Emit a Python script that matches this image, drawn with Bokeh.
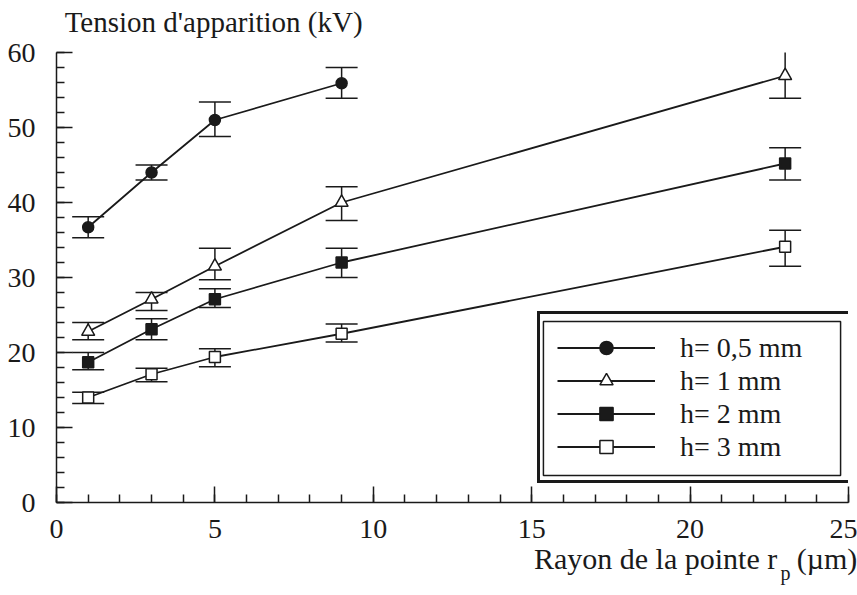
from bokeh.plotting import figure
from bokeh.models import (Range1d, SingleIntervalTicker, FixedTicker, LinearAxis,
                          Legend, LegendItem)
from bokeh.embed import file_html
from bokeh.resources import INLINE

# ---- data ----
x_05 = [1, 3, 5, 9]
y_05 = [36.7, 44.0, 51.0, 55.9]
lo_05 = [35.3, 43.0, 48.8, 53.9]
hi_05 = [38.1, 45.0, 53.4, 58.0]

x_all = [1, 3, 5, 9, 23]
y_1 = [22.8, 27.1, 31.5, 40.0, 56.9]
lo_1 = [21.7, 25.6, 29.7, 37.6, 53.9]
hi_1 = [24.0, 28.0, 33.9, 42.1, 60.5]

y_2 = [18.7, 23.1, 27.1, 32.0, 45.2]
lo_2 = [17.7, 21.7, 26.0, 30.0, 43.0]
hi_2 = [20.0, 24.5, 28.5, 33.9, 47.3]

y_3 = [14.0, 17.1, 19.4, 22.5, 34.1]
lo_3 = [13.2, 16.1, 18.1, 21.4, 31.5]
hi_3 = [14.7, 17.9, 20.5, 23.8, 36.3]

labels = ["h= 0,5 mm", "h= 1 mm", "h= 2 mm", "h= 3 mm"]
title_text = "Tension d'apparition (kV)"
xlabel_main = "Rayon de la pointe r"
xlabel_sub = "p"
xlabel_unit = "(\u00b5m)"

FONT = "Liberation Serif"
FS = "28px"
INK = "#1a1a1a"

p = figure(width=857, height=595, x_range=Range1d(0, 25), y_range=Range1d(0, 60),
           output_backend="svg", toolbar_location=None,
           min_border_left=56, min_border_right=9, min_border_top=52, min_border_bottom=93)
p.outline_line_color = None
p.xgrid.visible = False
p.ygrid.visible = False
p.background_fill_color = "white"
p.border_fill_color = "white"

p.xaxis.ticker = SingleIntervalTicker(interval=5, num_minor_ticks=5)
p.yaxis.ticker = SingleIntervalTicker(interval=10, num_minor_ticks=5)
for ax in (p.xaxis, p.yaxis):
    ax.major_tick_in = 16
    ax.major_tick_out = 0
    ax.minor_tick_in = 8
    ax.minor_tick_out = 0
    ax.axis_line_width = 1.5
    ax.major_tick_line_width = 1.5
    ax.minor_tick_line_width = 1.5
    ax.axis_line_color = INK
    ax.major_tick_line_color = INK
    ax.minor_tick_line_color = INK
    ax.major_label_text_font = FONT
    ax.major_label_text_font_size = FS
    ax.major_label_text_color = INK
p.xaxis.major_label_standoff = 17
p.yaxis.major_label_standoff = 21


def text_axis(place, ticks, overrides, size, standoff):
    ax = LinearAxis(ticker=FixedTicker(ticks=ticks, minor_ticks=[]),
                    major_label_overrides=overrides,
                    axis_line_color=None, major_tick_line_color=None,
                    minor_tick_line_color=None, major_tick_in=0, major_tick_out=0,
                    minor_tick_in=0, minor_tick_out=0,
                    major_label_standoff=standoff, major_label_text_font=FONT,
                    major_label_text_font_size=size, major_label_text_color=INK)
    p.add_layout(ax, place)
    return ax


# y-axis title, top left (label-only axis above the frame)
pos_title = 4.96
text_axis("above", [pos_title], {pos_title: title_text}, "29px", 15)

# x-axis title, bottom right (label-only axes below the frame)
pos_main, pos_unit, pos_sub = 18.91, 24.32, 23.01
text_axis("below", [pos_main, pos_unit], {pos_main: xlabel_main, pos_unit: xlabel_unit},
          "30px", 1)
text_axis("below", [pos_sub], {pos_sub: xlabel_sub}, "20px", -16)

series = [
    (x_05, y_05, lo_05, hi_05, "circle", INK),
    (x_all, y_1, lo_1, hi_1, "triangle", "white"),
    (x_all, y_2, lo_2, hi_2, "square", INK),
    (x_all, y_3, lo_3, hi_3, "square", "white"),
]
sizes = {"circle": 11, "triangle": 13, "square": 11}

# inner (thin) frame of the double-bordered legend box, in data units
p.quad(left=[15.37], right=[24.75], bottom=[3.6], top=[24.13],
       fill_alpha=0, line_color=INK, line_width=1.5)

items = []
for (xs, ys, lo, hi, mk, fill), lab in zip(series, labels):
    ln = p.line(xs, ys, line_color=INK, line_width=1.8)
    p.segment(x0=xs, y0=lo, x1=xs, y1=hi, line_color=INK, line_width=1.5)
    p.scatter(xs, lo, marker="dash", size=32, line_color=INK, line_width=1.5)
    p.scatter(xs, hi, marker="dash", size=32, line_color=INK, line_width=1.5)
    mr = p.scatter(xs, ys, marker=mk, size=sizes[mk], fill_color=fill,
                   line_color=INK, line_width=1.5)
    items.append(LegendItem(label=lab, renderers=[ln, mr]))

legend = Legend(items=items, location=(481, 19), padding=17, spacing=0,
                glyph_width=98, glyph_height=33, label_height=33, label_width=152,
                label_standoff=25, label_text_font=FONT, label_text_font_size=FS,
                label_text_color=INK, border_line_color=INK, border_line_width=3,
                border_line_alpha=1.0, background_fill_alpha=0.0, margin=0)
p.add_layout(legend, "center")

open("out.html", "w").write(file_html(p, INLINE))
